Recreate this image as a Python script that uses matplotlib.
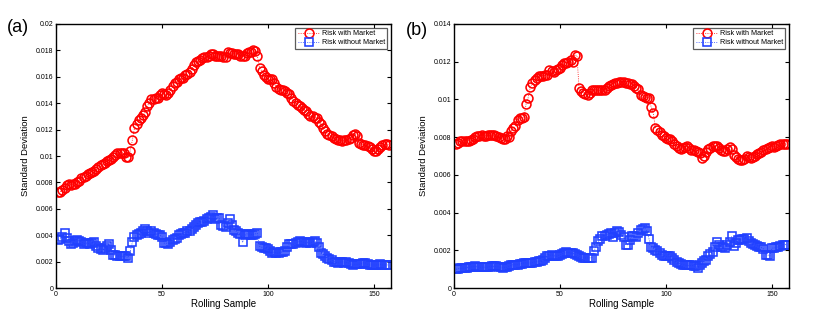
import numpy as np
import matplotlib
matplotlib.use("Agg")
import matplotlib.pyplot as plt
from matplotlib.ticker import FuncFormatter

# ── Data (values in units of 1e-3) ────────────────────────────────────────────
risk_with_a = [
    7.3, 7.3, 7.4, 7.6, 7.8, 7.9, 7.8, 7.9, 7.9, 8.0,
    8.1, 8.3, 8.4, 8.5, 8.6, 8.7, 8.8, 8.9, 9.0, 9.2,
    9.3, 9.4, 9.5, 9.6, 9.7, 9.8, 9.9, 10.1, 10.2, 10.2,
    10.2, 10.2, 9.9, 9.9, 10.4, 11.2, 12.1, 12.4, 12.7, 12.9,
    13.1, 13.3, 13.8, 14.0, 14.3, 14.3, 14.4, 14.4, 14.6, 14.8,
    14.7, 14.6, 14.8, 15.0, 15.3, 15.5, 15.6, 15.8, 15.9, 15.9,
    16.1, 16.2, 16.4, 16.6, 16.9, 17.1, 17.2, 17.3, 17.4, 17.5,
    17.5, 17.6, 17.7, 17.7, 17.6, 17.6, 17.6, 17.6, 17.5, 17.5,
    17.85, 17.8, 17.8, 17.75, 17.75, 17.7, 17.6, 17.55, 17.6, 17.8,
    17.85, 17.9, 18.0, 17.95, 17.55, 16.7, 16.45, 16.1, 16.0, 15.85,
    15.8, 15.8, 15.5, 15.2, 15.1, 15.0, 15.0, 14.9, 14.8, 14.7,
    14.4, 14.15, 14.0, 13.9, 13.8, 13.6, 13.5, 13.4, 13.2, 13.0,
    13.0, 12.9, 12.9, 12.6, 12.4, 12.1, 11.9, 11.7, 11.6, 11.5,
    11.4, 11.3, 11.2, 11.2, 11.1, 11.2, 11.2, 11.3, 11.4, 11.6,
    11.7, 11.5, 11.0, 10.9, 10.85, 10.8, 10.75, 10.7, 10.5, 10.35,
    10.4, 10.5, 10.7, 10.8, 10.9, 10.9, 10.85,
]
risk_without_a = [
    3.66, 3.7, 3.9, 4.2, 3.8, 3.6, 3.3, 3.4, 3.6, 3.66,
    3.6, 3.5, 3.35, 3.4, 3.4, 3.3, 3.4, 3.5, 3.2, 3.0,
    2.95, 2.9, 3.0, 3.2, 3.3, 2.9, 2.5, 2.5, 2.45, 2.4,
    2.4, 2.4, 2.4, 2.3, 2.8, 3.45, 3.9, 4.0, 4.1, 4.15,
    4.3, 4.45, 4.3, 4.15, 4.3, 4.2, 4.1, 4.05, 4.0, 3.9,
    3.4, 3.4, 3.35, 3.5, 3.65, 3.7, 3.8, 4.0, 4.1, 4.15,
    4.2, 4.3, 4.3, 4.5, 4.65, 4.8, 4.9, 5.0, 5.0, 5.05,
    5.2, 5.3, 5.4, 5.5, 5.2, 5.3, 5.3, 4.8, 4.7, 4.65,
    4.9, 5.2, 4.8, 4.4, 4.3, 4.15, 4.1, 3.45, 4.0, 4.1,
    4.1, 4.05, 4.05, 4.1, 4.15, 3.15, 3.1, 3.0, 3.0, 2.95,
    2.8, 2.65, 2.7, 2.65, 2.65, 2.7, 2.75, 2.8, 3.1, 3.3,
    3.3, 3.3, 3.4, 3.5, 3.55, 3.5, 3.45, 3.4, 3.45, 3.4,
    3.5, 3.55, 3.4, 3.1, 2.65, 2.55, 2.45, 2.3, 2.2, 2.15,
    2.0, 1.95, 1.9, 1.95, 2.0, 1.9, 1.95, 1.9, 1.8, 1.75,
    1.8, 1.8, 1.8, 1.85, 1.9, 1.9, 1.8, 1.75, 1.75, 1.75,
    1.75, 1.75, 1.8, 1.75, 1.75, 1.75, 1.75,
]
risk_with_b = [
    7.65, 7.7, 7.78, 7.78, 7.78, 7.8, 7.82, 7.87, 7.9, 8.0,
    8.05, 8.08, 8.1, 8.05, 8.08, 8.1, 8.1, 8.13, 8.1, 8.04,
    8.0, 7.95, 7.92, 7.9, 8.04, 8.0, 8.34, 8.49, 8.6, 8.93,
    9.02, 9.02, 9.07, 9.76, 10.1, 10.66, 10.87, 11.05, 11.15, 11.22,
    11.25, 11.26, 11.28, 11.31, 11.54, 11.5, 11.44, 11.58, 11.62, 11.67,
    11.8, 11.93, 11.95, 11.98, 12.1, 11.97, 12.37, 12.32, 10.6, 10.43,
    10.35, 10.3, 10.22, 10.35, 10.48, 10.5, 10.52, 10.5, 10.48, 10.48,
    10.52, 10.6, 10.7, 10.78, 10.84, 10.86, 10.88, 10.9, 10.9, 10.9,
    10.88, 10.86, 10.84, 10.8, 10.7, 10.62, 10.55, 10.25, 10.2, 10.13,
    10.08, 10.08, 9.6, 9.28, 8.49, 8.36, 8.25, 8.13, 8.05, 7.95,
    7.92, 7.9, 7.78, 7.65, 7.51, 7.45, 7.39, 7.42, 7.48, 7.51,
    7.42, 7.34, 7.3, 7.25, 7.2, 7.16, 6.9, 6.98, 7.2, 7.37,
    7.45, 7.51, 7.52, 7.51, 7.4, 7.3, 7.28, 7.25, 7.35, 7.46,
    7.37, 7.07, 6.95, 6.84, 6.8, 6.77, 6.85, 6.98, 6.95, 6.9,
    6.95, 7.02, 7.1, 7.16, 7.22, 7.3, 7.36, 7.42, 7.47, 7.51,
    7.5, 7.51, 7.58, 7.65, 7.64, 7.63, 7.63,
]
risk_without_b = [
    1.0, 1.02, 1.04, 1.05, 1.06, 1.08, 1.1, 1.12, 1.14, 1.15,
    1.12, 1.1, 1.1, 1.12, 1.1, 1.12, 1.14, 1.15, 1.15, 1.15,
    1.12, 1.1, 1.08, 1.1, 1.1, 1.15, 1.2, 1.24, 1.24, 1.24,
    1.28, 1.3, 1.33, 1.33, 1.33, 1.33, 1.35, 1.38, 1.4, 1.41,
    1.45, 1.5, 1.6, 1.68, 1.72, 1.77, 1.72, 1.68, 1.72, 1.77,
    1.82, 1.86, 1.9, 1.88, 1.85, 1.84, 1.82, 1.75, 1.68, 1.64,
    1.6, 1.6, 1.6, 1.6, 1.6, 1.95, 2.2, 2.47, 2.6, 2.74,
    2.78, 2.83, 2.88, 2.92, 2.7, 2.9, 3.04, 2.95, 2.83, 2.7,
    2.3, 2.3, 2.55, 2.78, 2.75, 2.7, 2.92, 3.1, 3.15, 3.18,
    3.0, 2.6, 2.2, 2.1, 2.03, 1.95, 1.85, 1.77, 1.72, 1.68,
    1.68, 1.68, 1.6, 1.5, 1.4, 1.33, 1.28, 1.24, 1.22, 1.2,
    1.2, 1.2, 1.18, 1.15, 1.06, 1.2, 1.33, 1.42, 1.5, 1.68,
    1.8, 1.9, 2.17, 2.42, 2.3, 2.2, 2.15, 2.12, 2.3, 2.42,
    2.74, 2.24, 2.4, 2.53, 2.55, 2.6, 2.62, 2.65, 2.5, 2.39,
    2.35, 2.3, 2.25, 2.2, 2.15, 2.07, 1.77, 1.75, 1.7, 2.12,
    2.12, 2.15, 2.2, 2.25, 2.3, 2.3, 2.3,
]
panel_labels = ["(a)", "(b)"]
y_limits = [0.02, 0.014]
y_steps = [0.002, 0.002]
x_ticks = [0, 50, 100, 150]

RED  = "#ff0000"
BLUE = "#2040ff"
FONT = "Liberation Sans"

plt.rcParams["font.family"] = FONT

fig = plt.figure(figsize=(8.3, 3.24), dpi=100)
axes = [fig.add_axes([0.0675, 0.111, 0.4035, 0.815]),
        fig.add_axes([0.547, 0.111, 0.4035, 0.815])]

series = [(risk_with_a, risk_without_a), (risk_with_b, risk_without_b)]

for ax, (with_m, without_m), ymax, step, label in zip(
        axes, series, y_limits, y_steps, panel_labels):
    w  = np.array(with_m) * 1e-3
    wo = np.array(without_m) * 1e-3
    x  = np.arange(1, len(w) + 1)

    ax.plot(x, w, ":", color=RED, lw=0.6, marker="o", ms=6.4,
            mfc="none", mec=RED, mew=1.15, label="Risk with Market")
    ax.plot(x, wo, ":", color=BLUE, lw=0.6, marker="s", ms=6.0,
            mfc="none", mec=BLUE, mew=1.15, label="Risk without Market")

    ax.set_xlim(0, 158)
    ax.set_ylim(0, ymax)
    ax.set_xticks(x_ticks)
    ax.set_yticks(np.arange(0, ymax + step / 2, step))
    ax.yaxis.set_major_formatter(FuncFormatter(lambda v, p: "%g" % round(v, 6)))
    ax.tick_params(direction="in", length=3, width=0.8, labelsize=5,
                   top=True, right=True, pad=2)
    for sp in ax.spines.values():
        sp.set_linewidth(1.0)

    ax.set_xlabel("Rolling Sample", fontsize=7, labelpad=1)
    ax.set_ylabel("Standard Deviation", fontsize=6.8, labelpad=4)

    leg = ax.legend(loc="upper right", fontsize=5.2, frameon=True,
                    fancybox=False, borderpad=0.35, handlelength=3.0,
                    handletextpad=0.3, labelspacing=0.25,
                    borderaxespad=0.5)
    leg.get_frame().set_edgecolor("#333333")
    leg.get_frame().set_linewidth(0.9)

fig.text(0.008, 0.915, panel_labels[0], fontsize=13, va="center", ha="left")
fig.text(0.489, 0.905, panel_labels[1], fontsize=13, va="center", ha="left")

fig.savefig("out.png", dpi=100)
